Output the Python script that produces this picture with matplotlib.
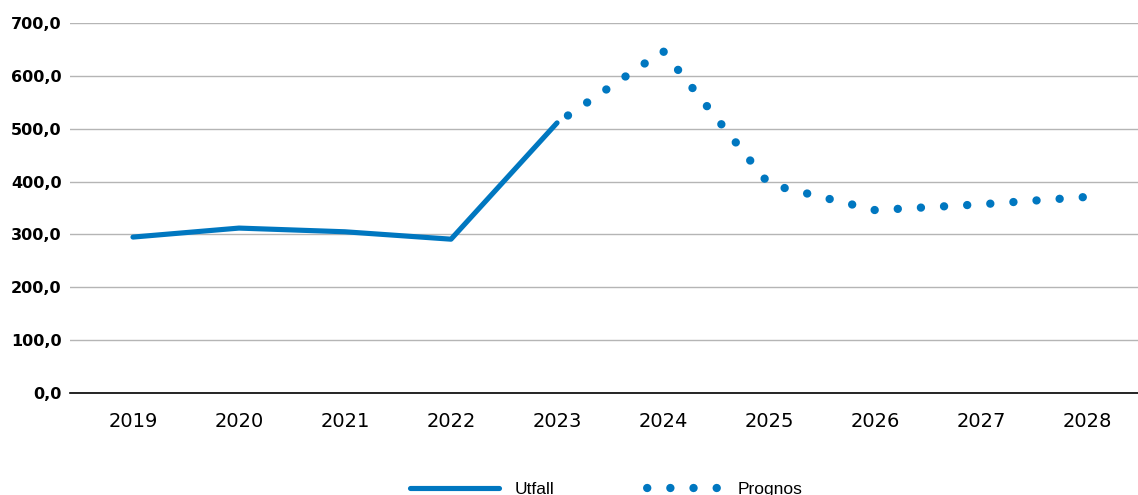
import matplotlib
matplotlib.use("Agg")
import matplotlib.pyplot as plt

years = ["2019", "2020", "2021", "2022", "2023", "2024", "2025", "2026", "2027", "2028"]
utfall = [295, 312, 305, 291, 511]
prognos = [511, 647, 395, 346, 357, 371]

blue = "#0077c0"
plt.rcParams["font.family"] = ["Liberation Sans", "DejaVu Sans"]

fig = plt.figure(figsize=(11.38, 4.95), dpi=100)
ax = fig.add_axes([70 / 1138, 102 / 495, 1068 / 1138, 370 / 495])

x_utf = range(0, len(utfall))
x_prog = range(len(utfall) - 1, len(years))

ax.plot(x_utf, utfall, color=blue, lw=3.7, solid_capstyle="round", label="Utfall")
# round dots, ~8 px wide, ~23 px apart
ax.plot(x_prog, prognos, color=blue, lw=6.0, linestyle=(1.2, (0.01, 2.77)),
        dash_capstyle="round", label="Prognos")

ax.set_ylim(0, 700)
ax.set_xlim(-0.594, 9.48)
ax.set_yticks(range(0, 701, 100))
ax.set_yticklabels([f"{v},0" for v in range(0, 701, 100)], fontweight="bold",
                   fontsize=11.5, family="DejaVu Sans")
ax.set_xticks(range(len(years)))
ax.set_xticklabels(years, fontsize=14, family="DejaVu Sans")
ax.tick_params(length=0)
ax.tick_params(axis="y", pad=6)
ax.tick_params(axis="x", pad=14)

ax.grid(axis="y", color="#b5b5b5", lw=1)
ax.set_axisbelow(True)
for s in ["top", "right", "left"]:
    ax.spines[s].set_visible(False)
ax.spines["bottom"].set_color("black")
ax.spines["bottom"].set_linewidth(1.2)

leg = fig.legend(loc="lower center", bbox_to_anchor=(0.533, -0.035), ncol=2, frameon=False,
                 fontsize=12.5, handlelength=5.1, columnspacing=4.6, handletextpad=0.9)

fig.savefig("out.png", dpi=100)
